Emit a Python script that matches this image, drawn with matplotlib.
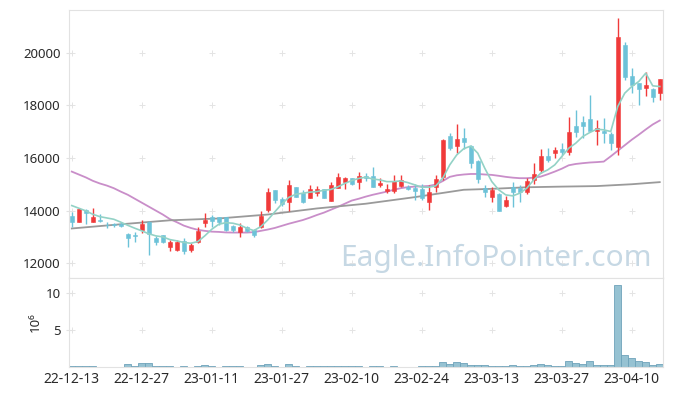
import numpy as np
import matplotlib
matplotlib.use('Agg')
import matplotlib.pyplot as plt

# 날짜 눈금 (10 거래일 간격)
DATE_LABELS = ['22-12-13', '22-12-27', '23-01-11', '23-01-27', '23-02-10',
               '23-02-24', '23-03-13', '23-03-27', '23-04-10']

OPEN = [13800, 13580, 14030, 13580, 13650, 13470, 13480, 13500, 13110, 13080,
        13280, 13560, 12940, 13080, 12600, 12510, 12850, 12510, 12810, 13530,
        13750, 13750, 13750, 13420, 13200, 13390, 13270, 13370, 14020, 14790,
        14430, 14320, 14890, 14680, 14490, 14660, 14810, 14380, 14870, 15080,
        15230, 15100, 15320, 15320, 14990, 14760, 14760, 14940, 14910, 14870,
        14810, 14310, 14890, 15290, 16840, 16470, 16760, 16450, 15890, 14840,
        14510, 14620, 14190, 14890, 14860, 14720, 15170, 15550, 16080, 16200,
        16330, 16240, 17220, 17370, 17480, 17040, 17040, 16910, 16410, 20290,
        19120, 18840, 18640, 18610, 18480]
HIGH = [13960, 14090, 14050, 14090, 13860, 13580, 13520, 13580, 13130, 13200,
        13630, 13610, 13050, 13090, 12880, 12890, 12950, 12760, 13390, 13900,
        13840, 13770, 13770, 13440, 13540, 13430, 13290, 14000, 14860, 14800,
        14530, 15160, 14910, 14790, 14970, 14950, 14820, 15100, 15420, 15270,
        15250, 15460, 15420, 15670, 15230, 15010, 15340, 15340, 14980, 15010,
        15010, 14960, 15360, 16700, 16940, 17280, 17130, 16500, 15930, 14980,
        14910, 14660, 14560, 15100, 14980, 15230, 15800, 16330, 16370, 16430,
        16580, 17550, 17820, 17600, 18400, 17450, 17510, 17000, 21310, 20420,
        19410, 18840, 19280, 18640, 18990]
LOW = [13370, 13560, 13480, 13560, 13580, 13330, 13390, 13360, 12630, 12820,
       13140, 12320, 12700, 12760, 12450, 12480, 12350, 12440, 12780, 13390,
       13390, 13460, 13230, 13200, 12990, 13200, 12990, 13330, 13930, 14280,
       14190, 13990, 14510, 14280, 14460, 14560, 14460, 14370, 14850, 14810,
       14980, 14820, 15110, 14890, 14890, 14680, 14680, 14890, 14790, 14410,
       14410, 14030, 14720, 15170, 16310, 16180, 16340, 15610, 15040, 14530,
       14340, 14000, 14150, 14150, 14340, 14630, 15010, 15440, 15860, 15990,
       16120, 16120, 16790, 16750, 17040, 16500, 16560, 16310, 16120, 18970,
       18460, 18020, 18360, 18140, 18210]
CLOSE = [13580, 14060, 13900, 13760, 13610, 13440, 13450, 13430, 12940, 13050,
         13480, 13100, 12800, 12800, 12790, 12810, 12480, 12710, 13240, 13660,
         13620, 13580, 13270, 13270, 13380, 13240, 13060, 13800, 14700, 14410,
         14240, 14970, 14530, 14320, 14810, 14820, 14490, 14970, 15270, 15230,
         15000, 15330, 15220, 14890, 15060, 14810, 15130, 15170, 14810, 14760,
         14470, 14720, 15200, 16690, 16370, 16720, 16620, 15800, 15190, 14690,
         14790, 14000, 14410, 14720, 14720, 15140, 15380, 16080, 15930, 16300,
         16240, 16980, 17000, 17220, 17040, 17140, 16940, 16560, 20590, 19070,
         18760, 18610, 18760, 18330, 18990]

# 거래량 (단위 10^6)
VOLUME = [0.12, 0.12, 0.12, 0.12, 0, 0, 0, 0, 0.37, 0.12,
          0.5, 0.5, 0.12, 0.12, 0.12, 0, 0.12, 0, 0.12, 0.23,
          0.12, 0, 0.12, 0.12, 0.12, 0, 0, 0.23, 0.37, 0.12,
          0, 0.37, 0.12, 0, 0.12, 0.12, 0.12, 0.12, 0.12, 0.12,
          0.12, 0.12, 0, 0.12, 0.12, 0, 0.12, 0, 0, 0,
          0.12, 0.12, 0.12, 0.65, 0.42, 0.65, 0.5, 0.23, 0.23, 0.23,
          0.12, 0.12, 0.12, 0.23, 0.12, 0.12, 0.23, 0.37, 0.28, 0.12,
          0.12, 0.79, 0.55, 0.42, 0.79, 0.23, 0.23, 0.23, 11.0, 1.6,
          1.2, 0.83, 0.7, 0.32, 0.42]

# 이동평균선
MA5 = [14190, 14090, 13990, 13860, 13770, 13720, 13670, 13560, 13440, 13330,
       13230, 13120, 13040, 13000, 12900, 12850, 12790, 12760, 12820, 13040,
       13290, 13480, 13540, 13520, 13455, 13330, 13240, 13390, 13645, 13950,
       14250, 14500, 14620, 14660, 14700, 14720, 14770, 14800, 14900, 15030,
       15140, 15220, 15270, 15200, 15165, 15100, 15100, 15127, 15064, 14976,
       14887, 14887, 14938, 15229, 15735, 16115, 16350, 16450, 16180, 15609,
       15103, 14786, 14596, 14558, 14660, 14849, 15166, 15419, 15546, 15735,
       16052, 16369, 16559, 16812, 16964, 17091, 17065, 17002, 17952, 18458,
       18711, 18901, 19218, 18737, 18711]
MA20 = [15480, 15370, 15260, 15130, 15030, 14950, 14850, 14720, 14600, 14450,
        14300, 14150, 14000, 13850, 13680, 13560, 13430, 13340, 13270, 13230,
        13200, 13190, 13170, 13165, 13165, 13165, 13180, 13230, 13280, 13340,
        13420, 13500, 13570, 13640, 13730, 13830, 13920, 14030, 14140, 14260,
        14380, 14450, 14530, 14600, 14660, 14720, 14790, 14850, 14890, 14910,
        14920, 14935, 14990, 15120, 15280, 15340, 15370, 15390, 15390, 15370,
        15355, 15320, 15280, 15250, 15230, 15230, 15250, 15290, 15380, 15480,
        15590, 15720, 15770, 15800, 15825, 15840, 15860, 16060, 16270, 16480,
        16690, 16880, 17080, 17270, 17420]
MA60_X = [0, 7, 14, 21, 28, 35, 42, 49, 56, 60, 65, 70, 75, 80, 84]
MA60 = [13320, 13480, 13630, 13700, 13850, 14080, 14260, 14510, 14790, 14825,
        14885, 14910, 14930, 15000, 15080]

UP_COLOR = '#f03a3a'
DOWN_COLOR = '#6cc2d8'
GRID_COLOR = '#e4e4e4'
SPINE_COLOR = '#e2e2e2'
TEXT_COLOR = '#2a2a2a'


def style_axes(ax):
    for sp in ax.spines.values():
        sp.set_color(SPINE_COLOR)
        sp.set_linewidth(0.8)
    ax.tick_params(axis='both', colors=SPINE_COLOR, labelcolor=TEXT_COLOR,
                   direction='inout', length=5, width=0.8, labelsize=9.5)
    ax.tick_params(axis='x', length=0, labelsize=10)


def grid_crosses(ax, xs, ys):
    gx, gy = np.meshgrid(xs, ys)
    ax.plot(gx.ravel(), gy.ravel(), '+', color=GRID_COLOR, ms=4.5, mew=0.7,
            zorder=0, clip_on=False)


def main():
    plt.rcParams['font.family'] = ['Noto Sans', 'DejaVu Sans']

    o = np.array(OPEN)
    h = np.array(HIGH)
    l = np.array(LOW)
    c = np.array(CLOSE)
    x = np.arange(len(o))
    up = c >= o
    colors = np.where(up, UP_COLOR, DOWN_COLOR)
    xticks = np.arange(0, len(DATE_LABELS) * 10, 10)

    fig = plt.figure(figsize=(6.73, 3.96), dpi=100, facecolor='white')
    ax = fig.add_axes([0.1025, 0.298, 0.883, 0.677])
    axv = fig.add_axes([0.1025, 0.0732, 0.883, 0.2248], sharex=ax)

    # 캔들
    ax.vlines(x, l, h, colors=colors, linewidth=1.0, zorder=2)
    ax.bar(x, np.abs(c - o), bottom=np.minimum(o, c), width=0.62,
           color=colors, edgecolor=colors, linewidth=0.4, zorder=3)

    # 이동평균
    ax.plot(x, MA5, color='#93d2c6', linewidth=1.2, zorder=4)
    ax.plot(x, MA20, color='#c98ec9', linewidth=1.3, zorder=1)
    ax.plot(MA60_X, MA60, color='#9a9a9a', linewidth=1.3, zorder=1)

    yticks = np.arange(12000, 20001, 2000)
    ax.set_ylim(11440, 21620)
    ax.set_yticks(yticks)
    ax.set_xlim(-0.4, 84.5)
    grid_crosses(ax, xticks, yticks)
    style_axes(ax)
    ax.tick_params(axis='x', labelbottom=False)

    ax.text(0.98, 0.045, 'Eagle.InfoPointer.com', transform=ax.transAxes,
            ha='right', va='baseline', fontsize=21.5, color='#c6d8e4', zorder=0)

    # 거래량
    axv.bar(x, VOLUME, width=1.0, color='#96c2d2', edgecolor='#6ea3ba',
            linewidth=0.6, zorder=2)
    vticks = [5, 10]
    axv.set_ylim(0, 11.95)
    axv.set_yticks(vticks)
    axv.set_xticks(xticks)
    axv.set_xticklabels(DATE_LABELS)
    grid_crosses(axv, xticks, vticks)
    style_axes(axv)
    axv.set_ylabel('10⁶', color=TEXT_COLOR, fontsize=9.5, labelpad=3)

    fig.savefig('out.png', dpi=100, facecolor='white')
    plt.close(fig)


if __name__ == '__main__':
    main()
